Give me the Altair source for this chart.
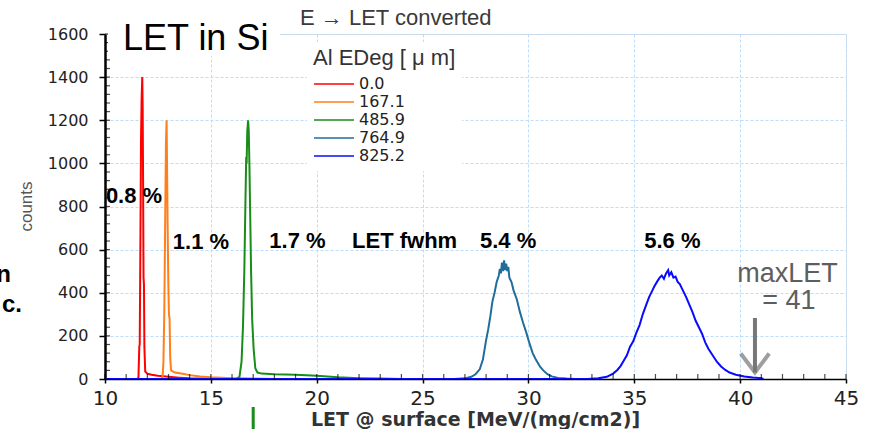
import altair as alt
import pandas as pd

# ---------------- data ----------------
series_names = ["0.0", "167.1", "485.9", "764.9", "825.2"]
series_colors = ["#ff0000", "#ff7f1a", "#1a8c1a", "#1f6e99", "#0a0aff"]

red_x = [11.5, 11.58, 11.62, 11.64, 11.67, 11.7, 11.73, 11.76, 11.78, 11.8, 11.82, 11.84, 11.86,
         11.9, 12.0, 12.2, 12.5, 13.0, 13.5, 14.0, 15.0, 16.0, 17.0]
red_y = [0, 5, 150, 160, 600, 1100, 1300, 1400, 1250, 900, 470, 440, 150,
         35, 25, 20, 15, 10, 6, 3, 2, 1, 0]

orange_x = [12.65, 12.72, 12.76, 12.8, 12.84, 12.88, 12.91, 12.93, 12.96, 12.99, 13.02, 13.05,
            13.08, 13.12, 13.3, 13.6, 14.0, 14.5, 15.0, 16.0, 17.0, 18.0]
orange_y = [0, 10, 80, 300, 700, 1100, 1200, 1000, 700, 450, 300, 280,
            100, 40, 30, 25, 18, 12, 8, 4, 2, 0]

green_x = [16.2, 16.35, 16.45, 16.52, 16.58, 16.63, 16.67, 16.69, 16.72, 16.76, 16.79, 16.82,
           16.86, 16.9, 16.95, 17.02, 17.1, 17.2, 17.4, 18.0, 19.0, 20.0, 21.0, 22.0, 23.0, 24.0]
green_y = [0, 10, 80, 250, 500, 800, 1030, 1000, 1150, 1200, 1150, 1000,
           750, 500, 280, 140, 50, 30, 25, 22, 20, 15, 8, 4, 2, 0]

teal_x = [26.5, 27.0, 27.3, 27.5, 27.7, 27.85, 28.0, 28.1, 28.2, 28.3, 28.4, 28.5, 28.6, 28.65,
          28.7, 28.75, 28.8, 28.85, 28.9, 28.95, 29.0, 29.05, 29.1, 29.2, 29.3, 29.45, 29.6,
          29.75, 29.9, 30.05, 30.2, 30.35, 30.55, 30.7, 30.9, 31.1, 31.4, 31.8, 32.2]
teal_y = [0, 3, 10, 22, 45, 90, 180, 230, 290, 360, 400, 450, 480, 510,
          490, 540, 500, 550, 505, 535, 500, 520, 470, 450, 410, 370, 310,
          260, 215, 165, 120, 90, 57, 40, 22, 12, 5, 2, 0]

blue_x = [10.0, 32.8, 33.3, 33.7, 34.0, 34.2, 34.35, 34.5, 34.65, 34.8, 34.95, 35.1, 35.25, 35.4,
          35.55, 35.7, 35.85, 35.95, 36.1, 36.2, 36.3, 36.4, 36.5, 36.6, 36.65, 36.75, 36.85,
          36.95, 37.05, 37.15, 37.3, 37.45, 37.6, 37.75, 37.9, 38.05, 38.2, 38.35, 38.5, 38.7,
          38.9, 39.1, 39.3, 39.5, 39.8, 40.2, 40.6, 41.0, 41.1]
blue_y = [0, 0, 3, 10, 25, 42, 60, 85, 110, 150, 175, 215, 250, 300,
          340, 380, 410, 430, 455, 470, 480, 465, 490, 505, 480, 495, 470,
          475, 450, 440, 410, 380, 345, 310, 270, 240, 210, 170, 140, 110,
          80, 58, 42, 30, 20, 12, 7, 4, 0]

ann_text = ["0.8 %", "1.1 %", "1.7 %", "LET fwhm", "5.4 %", "5.6 %"]
ann_x = [11.37, 14.53, 19.09, 24.15, 29.04, 36.8]
ann_y = [849, 635, 640, 640, 640, 640]

max_text = ["maxLET", "= 41"]
max_x = [42.24, 42.3]
max_y = [487, 360]

arrow_x = [40.7]
arrow_top = [283]
arrow_tip = [30]

marker_x = [17.0]

x_major = list(range(10, 46, 5))
x_minor = list(range(10, 46, 1))
y_major = list(range(0, 1601, 200))
y_minor = list(range(0, 1601, 40))

# ---------------- build tables ----------------
frames = []
for name, xs, ys in zip(series_names,
                        [red_x, orange_x, green_x, teal_x, blue_x],
                        [red_y, orange_y, green_y, teal_y, blue_y]):
    frames.append(pd.DataFrame({"let": xs, "counts": ys, "edeg": name,
                                "idx": list(range(len(xs)))}))
df = pd.concat(frames, ignore_index=True)

ann_df = pd.DataFrame({"t": ann_text, "ax": ann_x, "ay": ann_y})
max_df = pd.DataFrame({"t": max_text, "ax": max_x, "ay": max_y})
arrow_df = pd.DataFrame({"ax": arrow_x, "ay": arrow_top, "ay2": arrow_tip})
marker_df = pd.DataFrame({"ax": marker_x})
xminor_df = pd.DataFrame({"ax": x_minor})
yminor_df = pd.DataFrame({"ay": y_minor})
one = pd.DataFrame({"k": [0]})

W, H = 741, 345
x_scale = alt.Scale(domain=[10, 45], nice=False, zero=False)
y_scale = alt.Scale(domain=[0, 1600], nice=False, zero=False)
GRID = "#bcdcf8"

lines = alt.Chart(df).mark_line(strokeWidth=2, clip=True).encode(
    x=alt.X("let:Q", scale=x_scale, axis=alt.Axis(
        title="LET @ surface  [MeV/(mg/cm2)]", values=x_major, format="d",
        labelFont="DejaVu Sans", labelFontSize=20, labelColor="#222",
        labelPadding=5, labelFlush=False, labelOverlap=False,
        tickSize=4, tickColor="black", tickWidth=1.5,
        domainColor="black", domainWidth=1.5,
        grid=True, gridColor=GRID, gridDash=[3, 2], gridWidth=1,
        titleFont="DejaVu Sans", titleFontWeight="bold", titleFontSize=19,
        titleColor="#333", titleX=370, titleY=46, titleAlign="center",
        titleBaseline="alphabetic")),
    y=alt.Y("counts:Q", scale=y_scale, axis=alt.Axis(
        title="counts", values=y_major, format="d",
        labelFont="DejaVu Sans", labelFontSize=16, labelColor="#222",
        labelPadding=11, labelOverlap=False, labelFlush=False,
        tickSize=6, tickColor="black", tickWidth=1.5,
        domainColor="black", domainWidth=2.5,
        grid=True, gridColor=GRID, gridDash=[3, 2], gridWidth=1,
        titleFont="Liberation Sans", titleFontWeight="normal", titleFontSize=17,
        titleColor="#555", titleX=-79, titleY=172, titleAngle=-90,
        titleAlign="center", titleBaseline="middle")),
    color=alt.Color("edeg:N", sort=series_names,
                    scale=alt.Scale(domain=series_names, range=series_colors),
                    legend=alt.Legend(
                        orient="none", legendX=202, legendY=8,
                        title="Al EDeg [ μ m]", titleFont="Liberation Sans",
                        titleFontSize=22, titleFontWeight="normal", titleColor="#333",
                        titlePadding=5,
                        labelFont="DejaVu Sans", labelFontSize=16, labelColor="#222",
                        labelOffset=4, symbolType="stroke", symbolSize=1600,
                        symbolStrokeWidth=1.5, clipHeight=18, rowPadding=0,
                        fillColor="white", padding=6)),
    order=alt.Order("idx:Q"),
)

# inward minor ticks
xticks = alt.Chart(xminor_df).mark_tick(
    orient="vertical", color="black", thickness=1.2, size=5).encode(
    x=alt.X("ax:Q", scale=x_scale, axis=None),
    y=alt.value(H - 2.5))

yticks = alt.Chart(yminor_df).mark_tick(
    orient="horizontal", color="black", thickness=1.2, size=5).encode(
    y=alt.Y("ay:Q", scale=y_scale, axis=None),
    x=alt.value(2.5))

ann = alt.Chart(ann_df).mark_text(
    font="Liberation Sans", fontSize=22, fontWeight="bold", color="black",
    align="center", baseline="middle").encode(
    x=alt.X("ax:Q", scale=x_scale, axis=None),
    y=alt.Y("ay:Q", scale=y_scale, axis=None),
    text="t:N")

maxlet = alt.Chart(max_df).mark_text(
    font="Liberation Sans", fontSize=27, color="#5e5e5e",
    align="center", baseline="middle").encode(
    x=alt.X("ax:Q", scale=x_scale, axis=None),
    y=alt.Y("ay:Q", scale=y_scale, axis=None),
    text="t:N")

shaft = alt.Chart(arrow_df).mark_rule(color="#777", strokeWidth=4).encode(
    x=alt.X("ax:Q", scale=x_scale, axis=None),
    y=alt.Y("ay:Q", scale=y_scale, axis=None),
    y2="ay2:Q")

head = alt.Chart(arrow_df).mark_point(
    shape="M-0.75,-1L0,0L0.75,-1", size=1444, filled=False,
    stroke="#777", strokeWidth=4).encode(
    x=alt.X("ax:Q", scale=x_scale, axis=None),
    y=alt.Y("ay2:Q", scale=y_scale, axis=None))

marker = alt.Chart(marker_df).mark_rule(color="#1a8c1a", strokeWidth=3).encode(
    x=alt.X("ax:Q", scale=x_scale, axis=None),
    y=alt.value(H + 28), y2=alt.value(H + 52))

box = alt.Chart(one).mark_rect(fill="white").encode(
    x=alt.value(3), x2=alt.value(175), y=alt.value(-14), y2=alt.value(22))

title_main = alt.Chart(one).mark_text(
    text="LET in Si", font="Liberation Sans", fontSize=36, color="black",
    align="left", baseline="alphabetic").encode(x=alt.value(18), y=alt.value(16))

title_sub = alt.Chart(one).mark_text(
    text="E → LET converted", font="Liberation Sans", fontSize=22, color="#3a3a3a",
    align="left", baseline="alphabetic").encode(x=alt.value(195), y=alt.value(-9))

cut1 = alt.Chart(one).mark_text(
    text="n", font="Liberation Sans", fontSize=24, fontWeight="bold", color="black",
    align="right", baseline="alphabetic").encode(x=alt.value(-94), y=alt.value(248))

cut2 = alt.Chart(one).mark_text(
    text="c.", font="Liberation Sans", fontSize=24, fontWeight="bold", color="black",
    align="right", baseline="alphabetic").encode(x=alt.value(-83), y=alt.value(278))

chart = alt.layer(
    lines, xticks, yticks, ann, maxlet, shaft, head, marker, box, title_main, title_sub,
    cut1, cut2
).resolve_axis(x="independent", y="independent").properties(
    width=W, height=H,
    autosize=alt.AutoSizeParams(type="none"),
    padding={"left": 105, "top": 34, "right": 24, "bottom": 50},
).configure_view(stroke="#444", strokeWidth=2).configure(background="white")

chart.save("out.html", embed_options={"renderer": "svg", "actions": False})
